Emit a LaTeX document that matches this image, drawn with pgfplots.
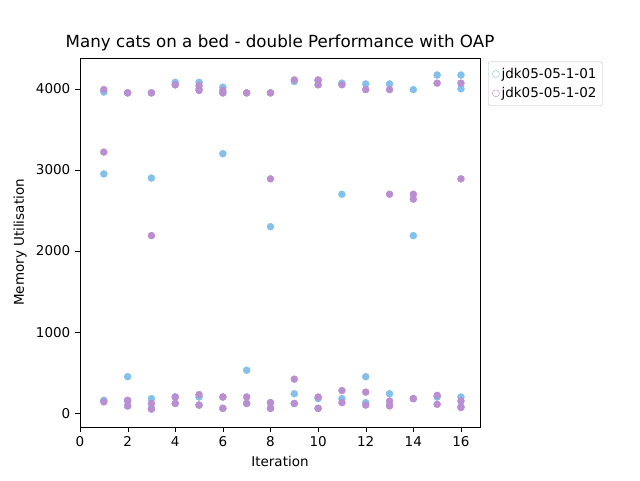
\documentclass[border=0pt]{standalone}
\usepackage{pgfplots}
\pgfplotsset{compat=1.18}
\usepackage{fontspec}
\setmainfont{DejaVu Sans}
\definecolor{cb}{HTML}{83C0EC}
\definecolor{cp}{HTML}{BA8ED0}
\begin{document}
\fontsize{13.5}{16}\selectfont
\begin{tikzpicture}
\useasboundingbox (0,0) rectangle (640pt,480pt);
\begin{axis}[at={(80pt,53pt)},anchor=south west,scale only axis,width=400pt,height=369pt,
 xmin=0,xmax=16.8,ymin=-170,ymax=4380,
 xtick={0,2,...,16},ytick={0,1000,2000,3000,4000},
 /pgf/number format/assume math mode=true,
 /pgf/number format/1000 sep={},
 tick label style={font=\fontsize{13.5}{16}\selectfont},
 label style={font=\fontsize{13.5}{16}\selectfont},
 xlabel={Iteration},ylabel={Memory Utilisation},
 title={Many cats on a bed - double Performance with OAP},
 title style={font=\fontsize{16.7}{19}\selectfont,yshift=-4pt},
 tick align=outside, major tick length=5pt, tick style={black},
 xtick pos=bottom, ytick pos=left,
 legend style={at={(1.02,0.99)},anchor=north west,font=\fontsize{13.5}{16}\selectfont,draw=lightgray,rounded corners=2pt,inner sep=4pt,row sep=3pt},
 legend image code/.code={\draw[#1] (0.35em,0) circle (3.5pt);},
 legend cell align=left]
\addplot[only marks,mark=*,mark size=3.5pt,cb,mark options={draw=cb,fill=cb}] coordinates {
(1,3960)(1,2950)(1,160)
(2,3950)(2,450)(2,90)(2,150)
(3,3950)(3,2900)(3,180)(3,60)
(4,4080)(4,4050)(4,120)(4,200)
(5,4080)(5,4000)(5,100)(5,200)
(6,4020)(6,3950)(6,3200)(6,200)(6,60)
(7,3950)(7,530)(7,120)
(8,3950)(8,2300)(8,130)(8,60)
(9,4090)(9,240)(9,120)
(10,4100)(10,4050)(10,180)(10,60)
(11,4070)(11,2700)(11,180)
(12,4060)(12,450)(12,130)
(13,4060)(13,240)(13,100)
(14,3990)(14,2190)(14,180)
(15,4170)(15,200)
(16,4170)(16,4000)(16,200)(16,80)
};
\addlegendentry{jdk05-05-1-01}
\addplot[only marks,mark=*,mark size=3.5pt,cp,mark options={draw=cp,fill=cp}] coordinates {
(1,3990)(1,3220)(1,140)
(2,3950)(2,160)(2,90)
(3,3950)(3,2190)(3,120)(3,50)
(4,4050)(4,200)(4,120)
(5,4040)(5,3980)(5,230)(5,100)
(6,3980)(6,3950)(6,200)(6,60)
(7,3950)(7,200)(7,120)
(8,3950)(8,2890)(8,130)(8,60)
(9,4110)(9,420)(9,120)
(10,4110)(10,4050)(10,200)(10,60)
(11,4050)(11,280)(11,130)
(12,3990)(12,260)(12,100)
(13,3990)(13,2700)(13,150)(13,90)
(14,2700)(14,2640)(14,180)
(15,4070)(15,220)(15,110)
(16,4070)(16,2890)(16,150)(16,70)
};
\addlegendentry{jdk05-05-1-02}
\end{axis}
\end{tikzpicture}
\end{document}
